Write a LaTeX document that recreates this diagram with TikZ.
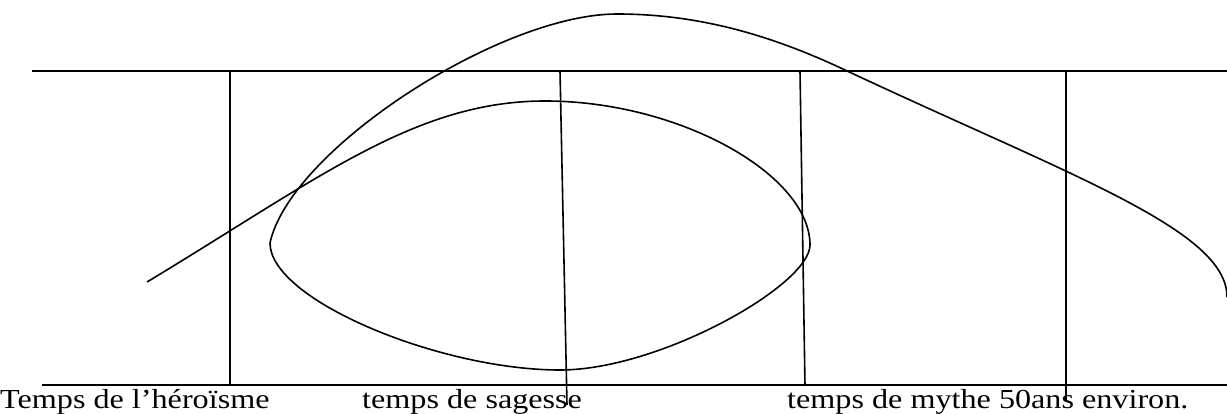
\documentclass[tikz,border=0pt]{standalone}
\usepackage{fontspec}
\usepackage{graphicx}
\setmainfont{Liberation Serif}
\tikzset{
  ln/.style={line width=1.6pt, black},
  lbl/.style={anchor=base west, inner sep=0pt, font=\fontsize{27.5}{30}\selectfont}
}
\newcommand{\wide}[1]{\scalebox{1.17}[1]{#1}}
\begin{document}
\begin{tikzpicture}[x=1pt, y=-1pt]
\useasboundingbox (0,0) rectangle (1227,414);
% horizontal lines
\coordinate (tl) at (32,71);
\coordinate (tr) at (1227,71);
\coordinate (bl) at (42,385);
\coordinate (br) at (1227,385);
\draw[ln] (tl) -- (tr);
\draw[ln] (bl) -- (br);
% vertical lines
\draw[ln] (230,71) -- (230,386);
\draw[ln] (560,71) -- (567,405);
\draw[ln] (800,71) -- (805,386);
\draw[ln] (1066,71) -- (1066,400);
% the curve
\coordinate (s) at (147,282);
\coordinate (eyeT) at (545,101);
\coordinate (eyeR) at (810,245);
\coordinate (eyeB) at (560,370);
\coordinate (eyeL) at (270,243);
\coordinate (peak) at (617,14);
\coordinate (cross) at (845,70);
\coordinate (e) at (1227,297);
\draw[ln, line join=round]
  (s) .. controls (318,179) and (415,101) .. (eyeT)
      .. controls (680,101) and (810,175) .. (eyeR)
      .. controls (810,285) and (660,370) .. (eyeB)
      .. controls (440,370) and (270,300) .. (eyeL)
      .. controls (290,150) and (500,14) .. (peak)
      .. controls (700,14) and (773,36) .. (cross)
      .. controls (1071,176) and (1227,230) .. (e);
% labels
\node[lbl] (t1) at (0,408) {\wide{Temps de l’héroïsme}};
\node[lbl] (t2) at (362,408) {\wide{temps de sagesse}};
\node[lbl] (t3) at (787,408) {\wide{temps de mythe 50ans environ.}};
\end{tikzpicture}
\end{document}
